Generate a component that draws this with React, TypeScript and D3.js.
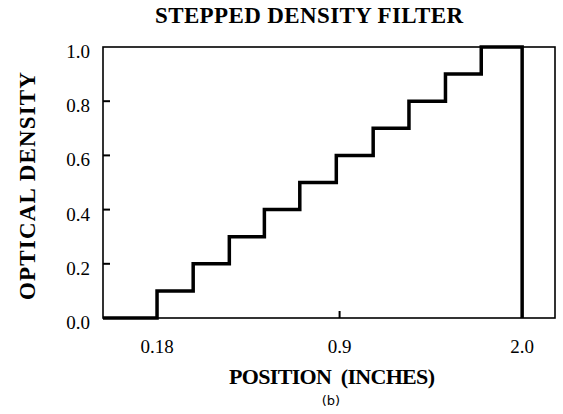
import React from "react";
import * as d3 from "d3";

// x is drawn on an evenly spaced step scale (one unit per filter step)
const stepEdges = [0, 0.99, 1.98, 2.94, 3.91, 4.91, 5.92, 6.9, 7.9, 8.88, 10];
const stepDensity = [0.1, 0.2, 0.3, 0.4, 0.5, 0.6, 0.7, 0.8, 0.9, 1.0];
const xTickPos = [0, 5, 10];
const xTickLabels = ["0.18", "0.9", "2.0"];
const yTicks = [0, 0.2, 0.4, 0.6, 0.8, 1.0];

const W = 563;
const H = 414;
const margin = { top: 47, right: 8, bottom: 96, left: 103 };
const serif = "'Liberation Serif', 'DejaVu Serif', serif";

const App = () => {
  const x = d3
    .scaleLinear()
    .domain([-1.48, 10.9])
    .range([margin.left, W - margin.right]);
  const y = d3
    .scaleLinear()
    .domain([0, 1])
    .range([H - margin.bottom, margin.top]);

  const [x0, x1] = x.range();
  const [yb, yt] = y.range();

  // start at the left frame, step up at each edge, drop back to 0 at the end
  const pts: [number, number][] = [[x.domain()[0], 0]];
  stepDensity.forEach((d, i) => pts.push([stepEdges[i], d]));
  pts.push([stepEdges[stepEdges.length - 1], 0]);

  const line = d3
    .line<[number, number]>()
    .x((d) => x(d[0]))
    .y((d) => y(d[1]))
    .curve(d3.curveStepAfter);

  return (
    <div style={{ position: "absolute", left: 0, top: 0 }}>
      <svg width={W} height={H} style={{ display: "block", background: "#fff" }}>
        <text
          x={309}
          y={23}
          textAnchor="middle"
          fontFamily={serif}
          fontWeight="bold"
          fontSize={23}
          textLength={308}
          lengthAdjust="spacing"
        >
          STEPPED DENSITY FILTER
        </text>

        {/* frame */}
        <rect
          x={x0}
          y={yt}
          width={x1 - x0}
          height={yb - yt}
          fill="none"
          stroke="#000"
          strokeWidth={1.6}
        />

        {/* y ticks */}
        {yTicks.map((t) => (
          <g key={t}>
            {t > 0 && t < 1 && (
              <line x1={x0} x2={x0 + 7} y1={y(t)} y2={y(t)} stroke="#000" strokeWidth={2} />
            )}
            <text
              x={90}
              y={y(t) + 11}
              textAnchor="end"
              fontFamily={serif}
              fontSize={19}
            >
              {t.toFixed(1)}
            </text>
          </g>
        ))}

        {/* x ticks */}
        {xTickPos.map((p, i) => (
          <g key={p}>
            {i === 1 && (
              <line x1={x(p)} x2={x(p)} y1={yb} y2={yb - 7} stroke="#000" strokeWidth={2} />
            )}
            <text x={x(p)} y={353} textAnchor="middle" fontFamily={serif} fontSize={19}>
              {xTickLabels[i]}
            </text>
          </g>
        ))}

        <path
          d={line(pts) ?? ""}
          fill="none"
          stroke="#000"
          strokeWidth={3.5}
          strokeLinejoin="miter"
        />

        <text
          transform={`translate(35,186) rotate(-90)`}
          textAnchor="middle"
          fontFamily={serif}
          fontWeight="bold"
          fontSize={23}
          textLength={228}
          lengthAdjust="spacing"
        >
          OPTICAL DENSITY
        </text>

        <text
          x={332}
          y={384}
          textAnchor="middle"
          fontFamily={serif}
          fontWeight="bold"
          fontSize={22}
          textLength={206}
          lengthAdjust="spacing"
          xmlSpace="preserve"
        >
          POSITION  (INCHES)
        </text>

        <text
          x={331}
          y={405}
          textAnchor="middle"
          fontFamily="'DejaVu Sans', sans-serif"
          fontSize={13}
        >
          (b)
        </text>
      </svg>
    </div>
  );
};

export default App;
